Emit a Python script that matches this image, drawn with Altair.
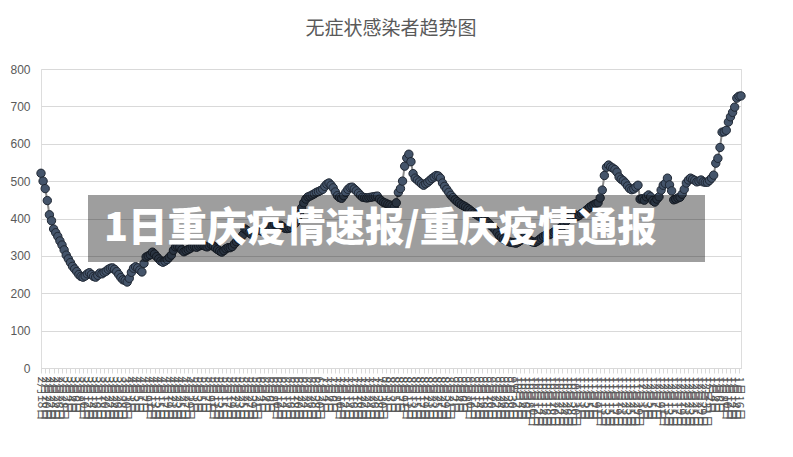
import altair as alt
import pandas as pd

title_text = "无症状感染者趋势图"
banner_text = "1日重庆疫情速报/重庆疫情通报"
start_date = "2022-02-18"

values = [
    521, 500, 480, 448, 410, 394, 372, 362, 352, 340,
    329, 316, 302, 292, 282, 272, 265, 258, 250, 245,
    243, 246, 252, 255, 250, 245, 243, 248, 254, 252,
    256, 259, 264, 267, 268, 264, 258, 250, 242, 236,
    234, 230, 240, 256, 267, 271, 268, 262, 257, 280,
    297, 300, 303, 310, 305, 298, 292, 286, 283, 286,
    290, 296, 302, 315, 324, 325, 323, 316, 311, 314,
    317, 320, 324, 325, 323, 326, 328, 329, 326, 324,
    327, 330, 326, 321, 317, 313, 310, 314, 319, 322,
    322, 325, 332, 338, 343, 348, 356, 372, 368, 362,
    358, 361, 365, 368, 370, 366, 371, 374, 372, 377,
    380, 385, 383, 381, 382, 377, 374, 373, 374, 376,
    382, 388, 400, 412, 428, 442, 452, 458, 460, 463,
    466, 470, 472, 475, 478, 486, 492, 495, 489, 482,
    471, 461, 456, 454, 461, 470, 478, 483, 484, 479,
    474, 468, 462, 457, 456, 455, 456, 457, 458, 459,
    460, 452, 447, 443, 441, 438, 436, 433, 430, 442,
    470, 480, 500, 540, 562, 572, 552, 520, 508, 503,
    498, 493, 489, 493, 497, 502, 507, 511, 515, 514,
    508, 495, 486, 478, 470, 462, 456, 450, 445, 441,
    437, 434, 431, 427, 423, 418, 414, 411, 407, 404,
    401, 396, 392, 387, 381, 376, 370, 362, 354, 349,
    345, 342, 339, 337, 336, 335, 334, 337, 341, 346,
    350, 348, 344, 340, 337, 336, 339, 343, 348, 352,
    355, 358, 357, 360, 364, 366, 370, 374, 379, 386,
    394, 401, 408, 413, 410, 405, 408, 413, 415, 420,
    425, 430, 434, 437, 440, 442, 455, 476, 515, 537,
    543, 538, 535, 531, 524, 511, 505, 501, 495, 487,
    480, 477, 479, 484, 489, 452, 453, 449, 458, 463,
    458, 448, 444, 452, 458, 476, 489, 494, 508, 490,
    474, 450, 452, 455, 457, 465, 478, 495, 503, 508,
    505, 502, 498, 500, 503, 498, 497, 497, 502, 508,
    516, 548, 561, 590, 631, 632, 636, 658, 672, 684,
    698, 722, 727, 728,
]

dates = pd.date_range(start_date, periods=len(values), freq="D")
labels = [f"{d.month}月{d.day}日" for d in dates]
df = pd.DataFrame({"idx": list(range(len(values))), "date": labels, "value": values})
shown_labels = labels[::2]

x_enc = alt.X(
    "date:N",
    sort=labels,
    scale=alt.Scale(type="point", padding=0),
    axis=alt.Axis(
        title=None,
        values=shown_labels,
        labelAngle=90,
        labelAlign="left",
        labelBaseline="middle",
        labelOverlap=False,
        labelFontSize=12,
        labelFont="Noto Sans CJK SC",
        labelColor="#595959",
        labelPadding=3,
        labelBound=False,
        labelFlush=False,
        tickColor="#d9d9d9",
        tickSize=5,
        domainColor="#d9d9d9",
        grid=False,
    ),
)
y_enc = alt.Y(
    "value:Q",
    scale=alt.Scale(domain=[0, 800], nice=False, zero=True),
    axis=alt.Axis(
        title=None,
        values=list(range(0, 900, 100)),
        grid=True,
        gridColor="#d9d9d9",
        domain=False,
        ticks=False,
        labelColor="#595959",
        labelFontSize=12,
        labelFont="Liberation Sans",
        labelPadding=11,
    ),
)

base = alt.Chart(df)
line = base.mark_line(color="#8c8c8c", strokeWidth=2).encode(
    x=x_enc, y=y_enc, order=alt.Order("idx:Q")
)
pts = base.mark_circle(size=70, opacity=1, color="#44546a", stroke="#1f2733", strokeWidth=1).encode(
    x=x_enc, y=y_enc
)

one = pd.DataFrame({"t": [banner_text]})
banner = alt.Chart(one).mark_rect(color="black", opacity=0.38).encode(
    x=alt.value(47), x2=alt.value(664), y=alt.value(126), y2=alt.value(193)
)
btext = alt.Chart(one).mark_text(
    align="left", baseline="middle", fontSize=39.5, font="Noto Sans CJK SC",
    fontWeight=900, color="white"
).encode(x=alt.value(63), y=alt.value(160), text="t:N")

chart = alt.layer(line, pts, banner, btext).properties(
    width=700,
    height=299,
    title=alt.TitleParams(
        title_text, fontSize=19, font="Noto Sans CJK SC", fontWeight="normal",
        color="#595959", anchor="middle", offset=24,
    ),
    autosize=alt.AutoSizeParams(type="none"),
    padding={"left": 33, "top": 61, "right": 10, "bottom": 60},
).configure_view(stroke=None).configure(background="white")

chart.save("out.html", embed_options={"renderer": "svg", "actions": False})
